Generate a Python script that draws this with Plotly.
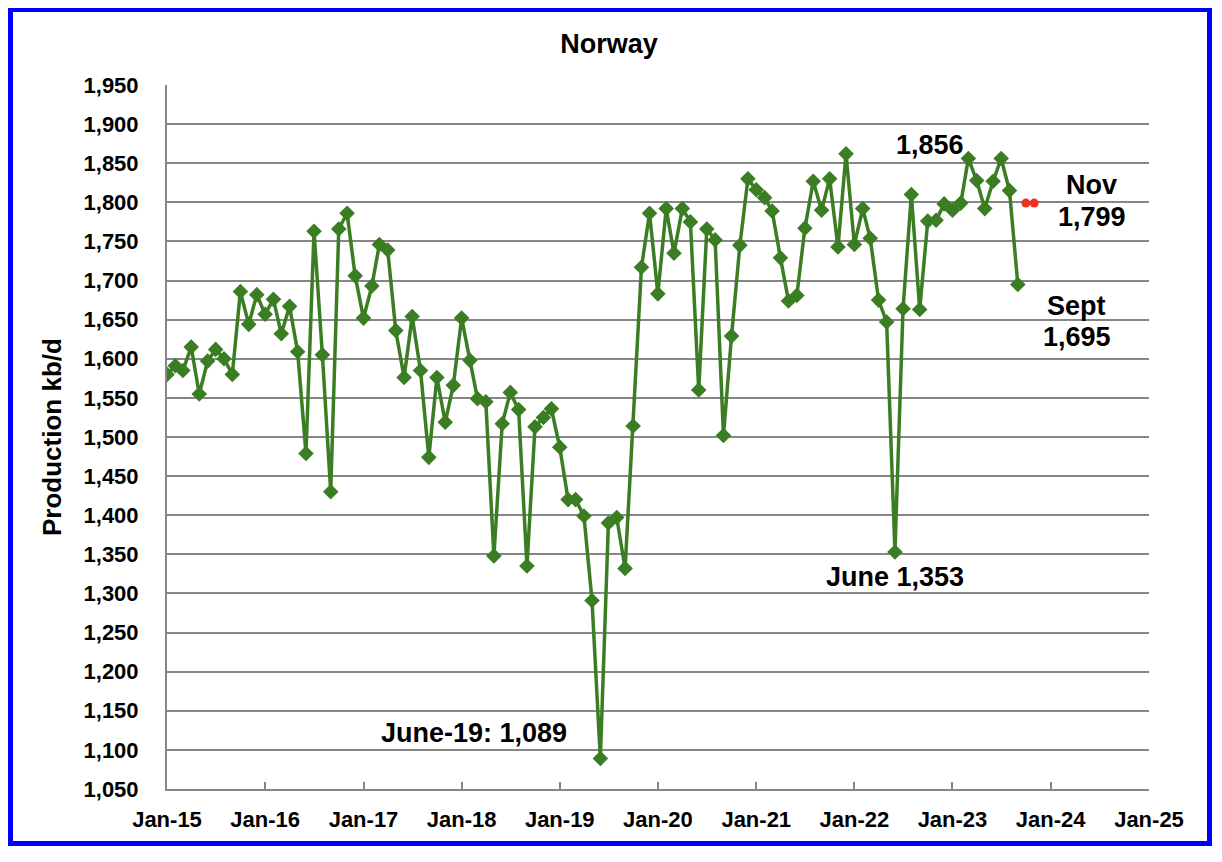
import pandas as pd
import plotly.graph_objects as go

# monthly Norway oil production, kb/d, Jan-15 .. Sep-23
production = [
    1580, 1591, 1585, 1615, 1555, 1597, 1612, 1600, 1580, 1686, 1644, 1682,
    1657, 1676, 1632, 1667, 1609, 1479, 1763, 1605, 1430, 1766, 1786, 1706,
    1652, 1693, 1746, 1739, 1636, 1576, 1654, 1585, 1474, 1576, 1519, 1566,
    1652, 1598, 1549, 1545, 1348, 1517, 1557, 1535, 1335, 1513, 1525, 1536,
    1487, 1420, 1420, 1399, 1291, 1089, 1390, 1397, 1332, 1514, 1717, 1786,
    1683, 1792, 1735, 1792, 1775, 1560, 1766, 1752, 1502, 1629, 1745, 1830,
    1816, 1806, 1789, 1729, 1674, 1681, 1767, 1827, 1790, 1830, 1743, 1862,
    1746, 1792, 1754, 1675, 1647, 1353, 1664, 1810, 1663, 1776, 1777, 1798,
    1790, 1799, 1856, 1828, 1792, 1827, 1856, 1815, 1695,
]
start_month = '2015-01-01'

# Oct-23 and Nov-23 estimates
estimate_months = ['2023-10-01', '2023-11-01']
estimate_values = [1799, 1799]

year_ticks = ['%d-01-01' % y for y in range(2015, 2026)]
y_ticks = list(range(1050, 1951, 50))

# text labels: (text, date, value)
labels = [
    ('1,856', '2022-10-09', 1873),
    ('Nov', '2024-06-02', 1822),
    ('1,799', '2024-06-02', 1781),
    ('Sept', '2024-04-07', 1668),
    ('1,695', '2024-04-07', 1628),
    ('June 1,353', '2022-06-01', 1321),
    ('June-19: 1,089', '2018-02-16', 1122),
]

months = pd.date_range(start_month, periods=len(production), freq='MS')

FONT = 'Arial, Liberation Sans, sans-serif'
GREEN = '#3A7D22'
GRAY = '#868686'

W, H = 1206, 846
ML, MR, MT, MB = 159, 65, 77, 65

fig = go.Figure()
fig.add_trace(go.Scatter(
    x=months, y=production, mode='lines+markers',
    line=dict(color=GREEN, width=3.5),
    marker=dict(symbol='diamond', size=12, color=GREEN),
    showlegend=False,
))
fig.add_trace(go.Scatter(
    x=pd.to_datetime(estimate_months), y=estimate_values, mode='lines+markers',
    line=dict(color='#EE3224', width=3),
    marker=dict(symbol='circle', size=9, color='#EE3224'),
    showlegend=False,
))

for text, date, value in labels:
    fig.add_annotation(x=date, y=value, text='<b>%s</b>' % text, showarrow=False,
                       xanchor='center', yanchor='middle',
                       font=dict(family=FONT, size=27, color='black'))

fig.add_annotation(xref='paper', yref='paper', x=(44 - ML) / (W - ML - MR), y=0.5,
                   text='<b>Production kb/d</b>', textangle=-90, showarrow=False,
                   xanchor='center', yanchor='middle',
                   font=dict(family=FONT, size=26, color='black'))

# blue frame round the whole chart
pw = W - ML - MR
ph = H - MT - MB
fig.add_shape(type='rect', xref='paper', yref='paper',
              x0=(2.5 - ML) / pw, x1=(W - 4.5 - ML) / pw,
              y0=(H - MB - (H - 10.5)) / ph, y1=(H - MB - 1.5) / ph,
              line=dict(color='#0000FF', width=5), fillcolor='rgba(0,0,0,0)')

fig.update_layout(
    width=W, height=H,
    margin=dict(l=ML, r=MR, t=MT, b=MB),
    paper_bgcolor='white', plot_bgcolor='white',
    title=dict(text='<b>Norway</b>', x=(609 - 8) / W, xanchor='center',
               y=1 - 36 / H, yanchor='middle', yref='container',
               font=dict(family=FONT, size=27, color='black')),
    font=dict(family=FONT, color='black'),
)
fig.update_xaxes(
    type='date', range=[year_ticks[0], year_ticks[-1]],
    tickvals=year_ticks, tickformat='%b-%y',
    showgrid=False, showline=True, linecolor=GRAY, linewidth=2,
    ticks='inside', ticklen=7, tickcolor=GRAY, tickwidth=1.5,
    tickfont=dict(family=FONT, size=22, color='black', weight='bold'),
    ticklabelstandoff=10,
)
fig.update_yaxes(
    range=[1050, 1950], tickvals=y_ticks, tickformat=',d',
    showgrid=True, gridcolor=GRAY, gridwidth=1.5,
    showline=True, linecolor=GRAY, linewidth=2, zeroline=False,
    tickfont=dict(family=FONT, size=22, color='black', weight='bold'),
    ticklabelstandoff=22,
)

fig.write_html('out.html')
